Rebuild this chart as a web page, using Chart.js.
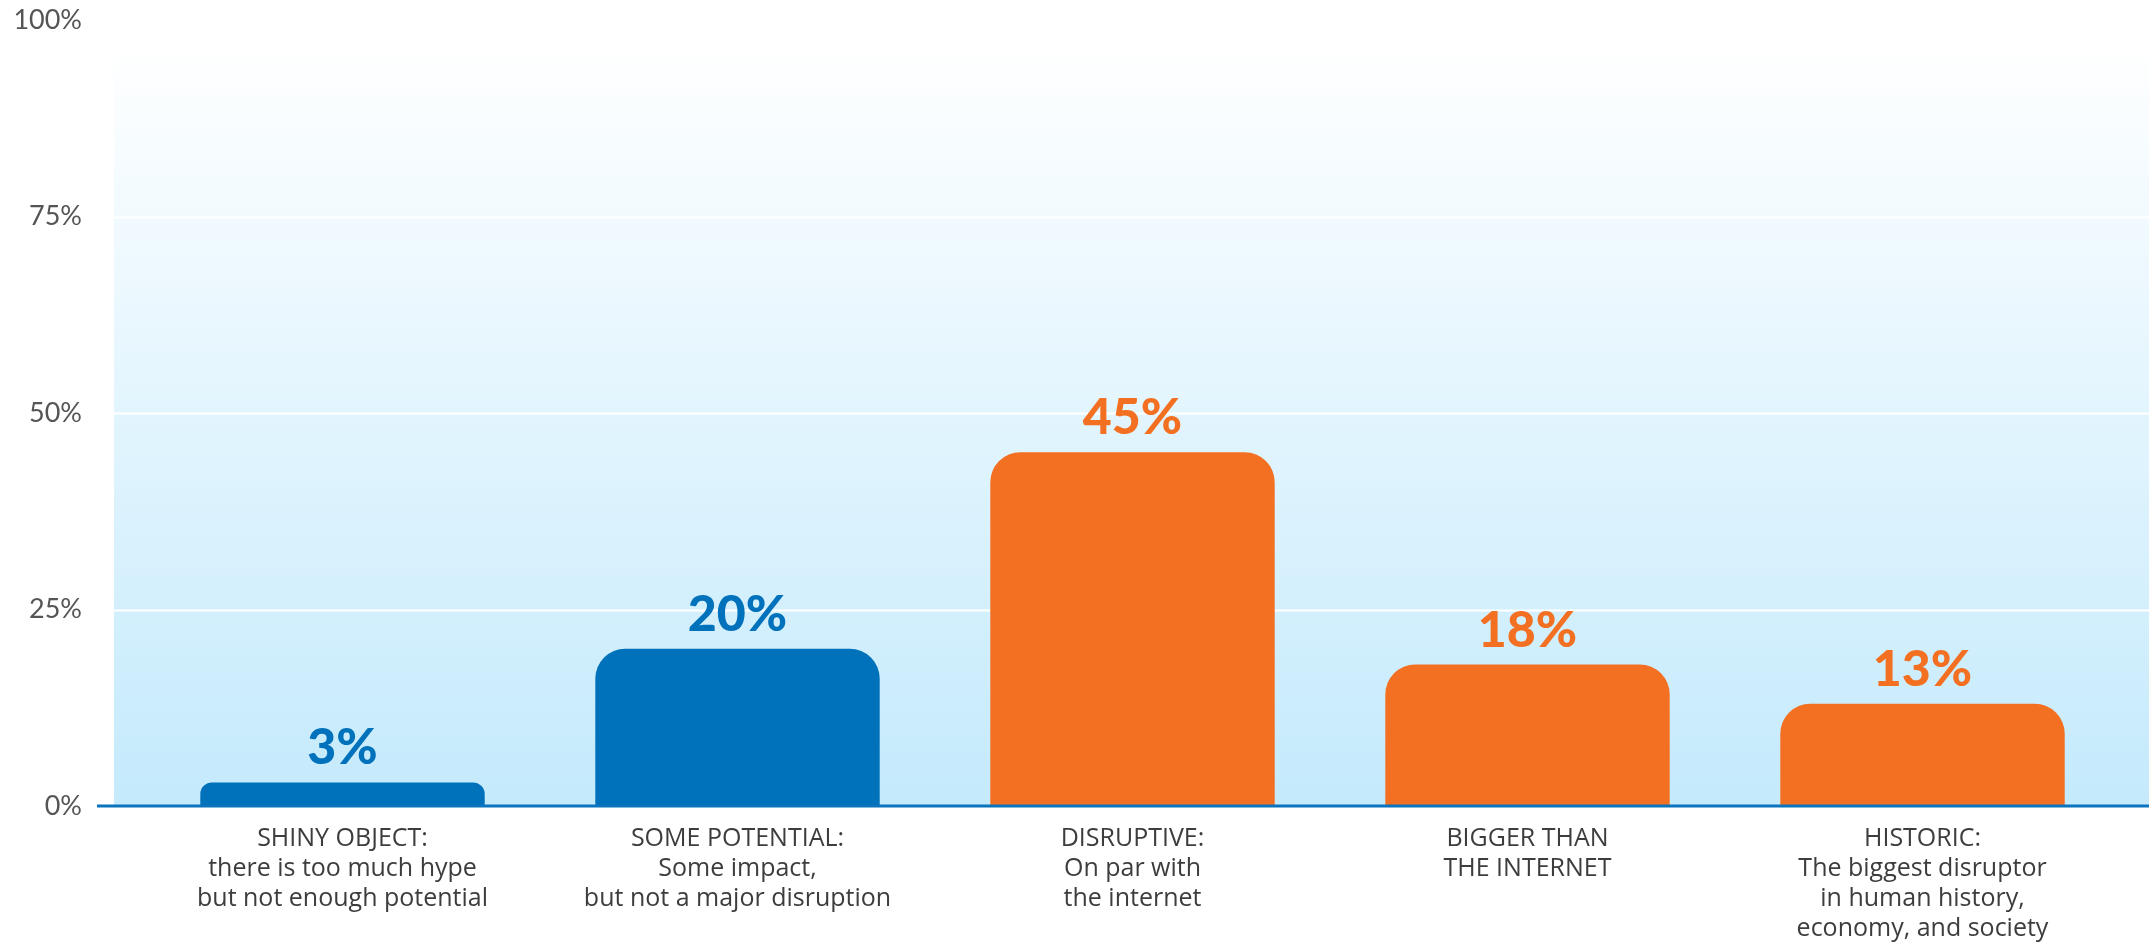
<!DOCTYPE html>
<html>
<head>
<meta charset="utf-8">
<script src="https://cdn.jsdelivr.net/npm/chart.js@4.4.1/dist/chart.umd.min.js"></script>
<style>
  html, body { margin: 0; padding: 0; background: #fff; }
  #wrap { width: 2149px; height: 947px; position: relative; }
</style>
</head>
<body>
<div id="wrap"><canvas id="chart"></canvas></div>
<script>
// data
const categories = [
  ['SHINY OBJECT:', 'there is too much hype', 'but not enough potential'],
  ['SOME POTENTIAL:', 'Some impact,', 'but not a major disruption'],
  ['DISRUPTIVE:', 'On par with', 'the internet'],
  ['BIGGER THAN', 'THE INTERNET'],
  ['HISTORIC:', 'The biggest disruptor', 'in human history,', 'economy, and society']
];
const shares = [3, 20, 45, 18, 13];
const yTicks = [0, 25, 50, 75, 100];

const BLUE = '#0071bb';
const ORANGE = '#f37022';
const barColors = [BLUE, BLUE, ORANGE, ORANGE, ORANGE];

// background gradient + white gridlines, wider than the chart area
const backdrop = {
  id: 'backdrop',
  beforeDraw(chart) {
    const {ctx, scales} = chart;
    const y = scales.y;
    const left = 114, right = chart.width;
    const top = 40, bottom = y.getPixelForValue(0);
    const g = ctx.createLinearGradient(0, top, 0, bottom);
    g.addColorStop(0, '#ffffff');
    g.addColorStop(1, '#c4eafc');
    ctx.save();
    ctx.fillStyle = g;
    ctx.fillRect(left, top, right - left, bottom - top);
    ctx.strokeStyle = '#ffffff';
    ctx.lineWidth = 2;
    [25, 50, 75].forEach(v => {
      const py = Math.round(y.getPixelForValue(v)) + 0.5;
      ctx.beginPath();
      ctx.moveTo(left, py);
      ctx.lineTo(right, py);
      ctx.stroke();
    });
    ctx.restore();
  },
  afterDatasetsDraw(chart) {
    const {ctx, scales} = chart;
    const py = scales.y.getPixelForValue(0);
    ctx.save();
    ctx.strokeStyle = '#0b74bd';
    ctx.lineWidth = 3;
    ctx.beginPath();
    ctx.moveTo(97, py);
    ctx.lineTo(chart.width, py);
    ctx.stroke();

    // value labels above bars
    const meta = chart.getDatasetMeta(0);
    ctx.font = '900 50px Lato, "Open Sans", sans-serif';
    ctx.textAlign = 'center';
    ctx.textBaseline = 'alphabetic';
    meta.data.forEach((bar, i) => {
      ctx.fillStyle = barColors[i];
      ctx.fillText(shares[i] + '%', bar.x, bar.y - 18);
    });
    ctx.restore();
  }
};

new Chart(document.getElementById('chart'), {
  type: 'bar',
  data: {
    labels: categories,
    datasets: [{
      data: shares,
      backgroundColor: barColors,
      borderWidth: 0,
      borderRadius: {topLeft: 30, topRight: 30, bottomLeft: 0, bottomRight: 0},
      borderSkipped: 'start',
      barPercentage: 0.72,
      categoryPercentage: 1.0
    }]
  },
  options: {
    responsive: true,
    maintainAspectRatio: false,
    animation: false,
    layout: { padding: { top: 20, right: 29, left: 0, bottom: 0 } },
    plugins: { legend: { display: false }, tooltip: { enabled: false } },
    scales: {
      x: {
        grid: { display: false, drawTicks: false },
        border: { display: false },
        ticks: {
          color: '#3d3d3d',
          font: { family: '"Open Sans", sans-serif', size: 25 },
          lineHeight: 1.28,
          padding: 18,
          maxRotation: 0,
          autoSkip: false
        },
        afterFit(scale) { scale.height = 141; }
      },
      y: {
        min: 0,
        max: 100,
        afterBuildTicks(scale) { scale.ticks = yTicks.map(v => ({value: v})); },
        grid: { display: false, drawTicks: false },
        border: { display: false },
        ticks: {
          color: '#555555',
          font: { family: 'Lato, "Open Sans", sans-serif', size: 27 },
          padding: 63,
          callback: v => v + '%'
        },
        afterFit(scale) {
          scale.width = 145;
          // tick padding is meant horizontally only
          scale.paddingTop = 20;
          scale.paddingBottom = 0;
        }
      }
    }
  },
  plugins: [backdrop]
});
</script>
</body>
</html>
